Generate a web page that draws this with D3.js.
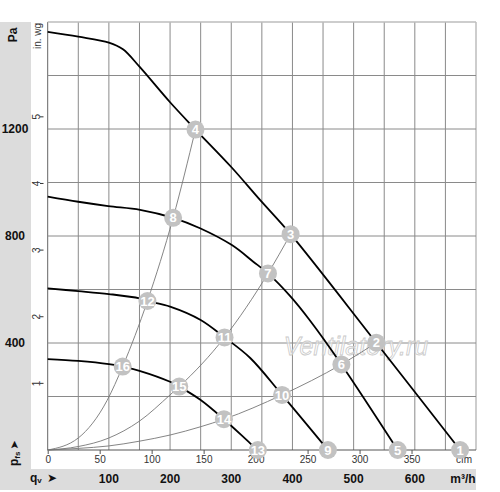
<!DOCTYPE html>
<html lang="ru">
<head>
<meta charset="utf-8">
<title>Fan performance curves</title>
<script src="https://cdn.jsdelivr.net/npm/d3@7"></script>
<style>
body { margin: 0; background: #fff; }
svg { display: block; font-family: "Liberation Sans", Arial, sans-serif; }
.band { fill: #dcdcdc; }
.grid line { stroke: #8a8a8a; stroke-width: 1; }
.lbl { font-weight: bold; font-size: 12px; fill: #111; }
.cfm text { font-size: 10px; fill: #333; }
.cfm line { stroke: #555; }
.inwg text { font-size: 10px; fill: #333; }
.fan { fill: none; stroke: #000; stroke-width: 1.8; }
.sys { fill: none; stroke: #777; stroke-width: 0.9; }
.marker circle { fill: #c2c2c2; }
.marker text { fill: #fff; font-weight: bold; font-size: 13px; }
</style>
</head>
<body>
<div id="chart"></div>
<script>

// tick labels
var flowLabels = [100, 200, 300, 400, 500, 600];       // m³/h
var cfmLabels = [0, 50, 100, 150, 200, 250, 300, 350, 400];
var paLabels = [400, 800, 1200];
var inwgLabels = [1, 2, 3, 4, 5];

// fan curves, [m³/h, Pa]
var fanCurve1 = [[0,1563],[50,1545],[100,1523],[123,1498],[150,1433],[200,1300],[241.5,1198],
                 [300,1058],[347,935],[397,807],[537,401],[674,0]];
var fanCurve2 = [[0,947],[50,928],[99,912],[151,898],[205,868],[249,829],[301,766],[336,704],
                 [360,660],[396,576],[428,486],[480,320],[572,0]];
var fanCurve3 = [[0,604],[50,594],[100,583],[150,567],[163,557],[200,536],[250,486],[289,421],
                 [331,344],[383,206],[458,0]];
var fanCurve4 = [[0,340],[50,333],[100,321],[122.5,312],[150,296],[200,255],[215,237],[250,187],
                 [288,115],[331,25],[343.5,0]];

// system curves (thin grey)
var sysCurve1 = [[0,0],[50,45],[97,185],[122.5,312],[163,557],[205,868],[241.5,1198]];
var sysCurve2 = [[0,0],[50,13],[99,44],[150,108],[200,206],[215,237],[289,421],[360,660],[397,807]];
var sysCurve3 = [[0,0],[50,6],[99,15],[150,33],[200,56],[250,87],[288,115],[383,206],[480,320],[537,401]];

// numbered operating points
var pointNumbers = [1, 2, 3, 4, 5, 6, 7, 8, 9, 10, 11, 12, 13, 14, 15, 16];
var pointFlow = [674, 537, 397, 241.5, 572, 480, 360, 205, 458, 383, 289, 163, 343.5, 288, 215, 122.5];
var pointPa   = [0, 401, 807, 1198, 0, 320, 660, 868, 0, 206, 421, 557, 0, 115, 237, 312];

var W = 500, H = 492;
var plotLeft = 47.7, plotRight = 476, plotTop = 22, plotBottom = 450;

var svg = d3.select("#chart").append("svg")
    .attr("width", W)
    .attr("height", H);

var x = d3.scaleLinear().domain([0, 700]).range([plotLeft, plotRight]);
var y = d3.scaleLinear().domain([0, 1600]).range([plotBottom, plotTop]);
var xCfm = d3.scaleLinear().domain([0, 700 / 1.699]).range([plotLeft, plotRight]);
var yInwg = d3.scaleLinear().domain([0, 1600 / 249.09]).range([plotBottom, plotTop]);

// grey bands
svg.append("rect").attr("class", "band")
    .attr("x", 0).attr("y", plotTop).attr("width", 31).attr("height", 490 - plotTop);
svg.append("rect").attr("class", "band")
    .attr("x", 0).attr("y", 469).attr("width", plotRight).attr("height", 21);

// grid
var grid = svg.append("g").attr("class", "grid");
grid.selectAll(".v").data(x.ticks(14)).enter().append("line")
    .attr("x1", function(d) { return x(d); })
    .attr("x2", function(d) { return x(d); })
    .attr("y1", plotTop).attr("y2", plotBottom)
    .style("stroke", function(d) { return d === 700 ? "#bdbdbd" : (d === 0 ? "#666" : null); })
    .style("stroke-width", function(d) { return d === 700 ? 1.5 : null; });
grid.selectAll(".h").data(y.ticks(8)).enter().append("line")
    .attr("x1", plotLeft).attr("x2", plotRight)
    .attr("y1", function(d) { return y(d); })
    .attr("y2", function(d) { return y(d); })
    .style("stroke", function(d) { return d === 1600 ? "#bdbdbd" : (d === 0 ? "#555" : null); })
    .style("stroke-width", function(d) { return d === 1600 ? 1.5 : null; });

// watermark
svg.append("text")
    .attr("x", 356).attr("y", 355)
    .attr("text-anchor", "middle")
    .style("font-style", "italic")
    .style("font-size", "25px")
    .style("fill", "#fff").style("fill-opacity", 0.55)
    .style("stroke", "#c9c9c9").style("stroke-width", 0.8)
    .text("Ventilatory.ru");

// cfm axis under the plot
var cfmAxis = d3.axisBottom(xCfm)
    .tickValues(cfmLabels)
    .tickSize(4)
    .tickPadding(2)
    .tickFormat(function(d) { return d === 400 ? "cfm" : d; });
svg.append("g").attr("class", "cfm")
    .attr("transform", "translate(0," + plotBottom + ")")
    .call(cfmAxis)
    .call(function(g) { g.select(".domain").remove(); });

// in. wg axis
var inwg = svg.append("g").attr("class", "inwg");
inwg.selectAll("line").data(inwgLabels).enter().append("line")
    .attr("x1", 40).attr("x2", 43.5)
    .attr("y1", function(d) { return yInwg(d); })
    .attr("y2", function(d) { return yInwg(d); })
    .style("stroke", "#333");
inwg.selectAll("text").data(inwgLabels).enter().append("text")
    .attr("transform", function(d) { return "translate(36," + yInwg(d) + ") rotate(-90)"; })
    .attr("text-anchor", "middle")
    .attr("dy", "0.35em")
    .text(function(d) { return d; });
svg.append("text")
    .attr("transform", "translate(37,36) rotate(-90)")
    .attr("text-anchor", "middle")
    .attr("dy", "0.35em")
    .style("font-size", "10px").style("fill", "#333")
    .text("in. wg");

// Pa labels
svg.selectAll(".pa").data(paLabels).enter().append("text")
    .attr("class", "lbl")
    .attr("x", 15)
    .attr("y", function(d) { return y(d); })
    .attr("dy", "0.35em")
    .attr("text-anchor", "middle")
    .text(function(d) { return d; });
svg.append("text").attr("class", "lbl")
    .attr("transform", "translate(13,35) rotate(-90)")
    .attr("text-anchor", "middle")
    .attr("dy", "0.35em")
    .text("Pa");

// pfs label
var pfs = svg.append("text").attr("class", "lbl")
    .attr("transform", "translate(14,466) rotate(-90)")
    .attr("dy", "0.35em");
pfs.append("tspan").text("p");
pfs.append("tspan").attr("dy", 2).style("font-size", "8px").text("fs");
pfs.append("tspan").attr("dy", -2).attr("dx", 2)
    .style("font-family", "DejaVu Sans").style("font-size", "11px").text("➤");

// m³/h labels
svg.selectAll(".flow").data(flowLabels).enter().append("text")
    .attr("class", "lbl")
    .attr("x", function(d) { return x(d); })
    .attr("y", 483)
    .attr("text-anchor", "middle")
    .text(function(d) { return d; });
svg.append("text").attr("class", "lbl")
    .attr("x", 463).attr("y", 483)
    .attr("text-anchor", "middle")
    .text("m³/h");
var qv = svg.append("text").attr("class", "lbl").attr("x", 30).attr("y", 482);
qv.append("tspan").text("q");
qv.append("tspan").attr("dy", 1).style("font-size", "8px").text("v");
svg.append("text").attr("class", "lbl")
    .attr("x", 47).attr("y", 482)
    .style("font-family", "DejaVu Sans").style("font-size", "12px")
    .text("➤");

// curves
var sysLine = d3.line()
    .x(function(d) { return x(d[0]); })
    .y(function(d) { return y(d[1]); })
    .curve(d3.curveMonotoneX);
var fanLine = d3.line()
    .x(function(d) { return x(d[0]); })
    .y(function(d) { return y(d[1]); })
    .curve(d3.curveCatmullRom.alpha(0.5));

svg.selectAll(".sys").data([sysCurve1, sysCurve2, sysCurve3]).enter().append("path")
    .attr("class", "sys")
    .attr("d", sysLine);

svg.selectAll(".fan").data([fanCurve1, fanCurve2, fanCurve3, fanCurve4]).enter().append("path")
    .attr("class", "fan")
    .attr("d", fanLine);

// markers
var marker = svg.selectAll(".marker").data(pointNumbers).enter().append("g")
    .attr("class", "marker")
    .attr("transform", function(d, i) { return "translate(" + x(pointFlow[i]) + "," + y(pointPa[i]) + ")"; });
marker.append("circle").attr("r", 9);
marker.append("text")
    .attr("text-anchor", "middle")
    .attr("dy", "0.36em")
    .text(function(d) { return d; });

</script>
</body>
</html>
